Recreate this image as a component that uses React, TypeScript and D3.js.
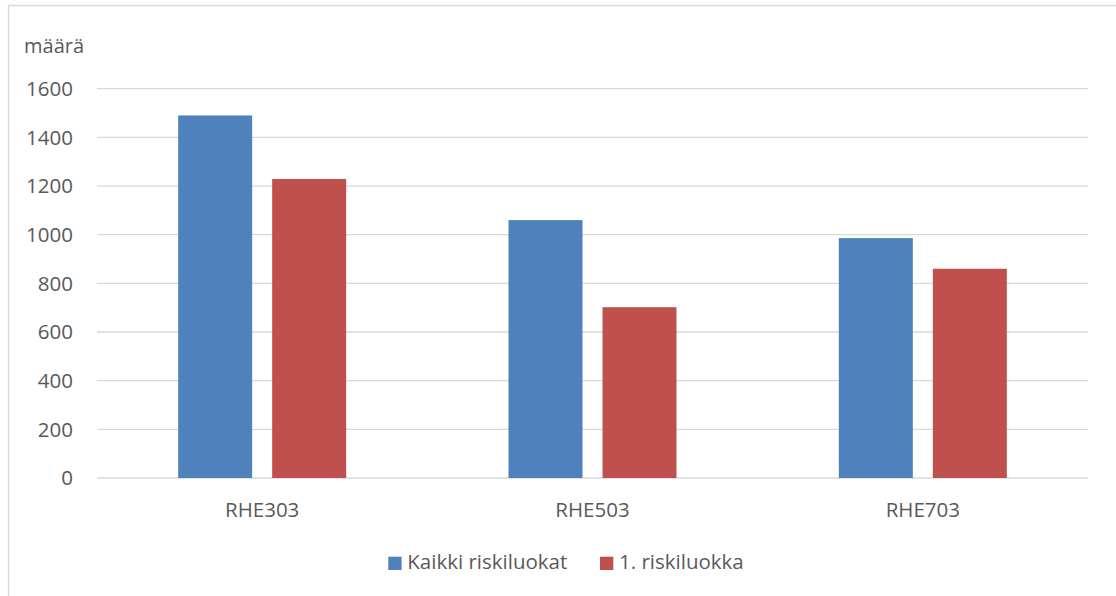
import React from "react";
import * as d3 from "d3";

const categories = ["RHE303", "RHE503", "RHE703"];
const seriesNames = ["Kaikki riskiluokat", "1. riskiluokka"];
const allClasses = [1490, 1060, 986];
const firstClass = [1229, 702, 860];
const yTicks = [0, 200, 400, 600, 800, 1000, 1200, 1400, 1600];
const colors = ["#4f81bd", "#c0504d"];
const yAxisTitle = "määrä";

const W = 1116;
const H = 596;
const FONT = "'Open Sans', 'Liberation Sans', sans-serif";
const TEXT = "#595959";

export default function App() {
  const left = 97, right = 1088, top = 88.7, bottom = 478;
  const y = d3.scaleLinear().domain([0, 1600]).range([bottom, top]);
  const x0 = d3.scaleBand<string>().domain(categories).range([left, right])
    .paddingInner(0.4914).paddingOuter(0.2457);
  const x1 = d3.scaleBand<string>().domain(seriesNames).range([0, x0.bandwidth()])
    .paddingInner(0.2128).paddingOuter(0);
  const series = [allClasses, firstClass];

  return (
    <svg width={W} height={H} style={{ position: "absolute", left: 0, top: 0, background: "#fff" }}>
      <line x1={8.5} x2={W} y1={5.5} y2={5.5} stroke="#d9d9d9" strokeWidth={1.5} />
      <line x1={8.5} x2={8.5} y1={5.5} y2={H} stroke="#d9d9d9" strokeWidth={1.5} />
      <text x={24} y={53} fontFamily={FONT} fontSize={20} fill={TEXT}>{yAxisTitle}</text>
      {yTicks.map((t) => (
        <g key={t}>
          <line x1={left} x2={right} y1={y(t)} y2={y(t)} stroke="#d9d9d9" strokeWidth={1.3} />
          <text x={73} y={y(t)} dy="0.36em" textAnchor="end" fontFamily={FONT} fontSize={20.5} fill={TEXT}>{t}</text>
        </g>
      ))}
      {categories.map((c, i) => (
        <g key={c}>
          {series.map((s, j) => (
            <rect key={j} x={(x0(c) as number) + (x1(seriesNames[j]) as number)} y={y(s[i])}
              width={x1.bandwidth()} height={bottom - y(s[i])} fill={colors[j]} />
          ))}
          <text x={(x0(c) as number) + x0.bandwidth() / 2} y={516.5} textAnchor="middle" fontFamily={FONT} fontSize={20.5} fill={TEXT}>{c}</text>
        </g>
      ))}
      {seriesNames.map((n, j) => {
        const lx = j === 0 ? 388.3 : 600;
        return (
          <g key={n}>
            <rect x={lx} y={556.7} width={13.3} height={13.3} fill={colors[j]} />
            <text x={lx + 19} y={569} fontFamily={FONT} fontSize={20.5} fill={TEXT}>{n}</text>
          </g>
        );
      })}
    </svg>
  );
}
